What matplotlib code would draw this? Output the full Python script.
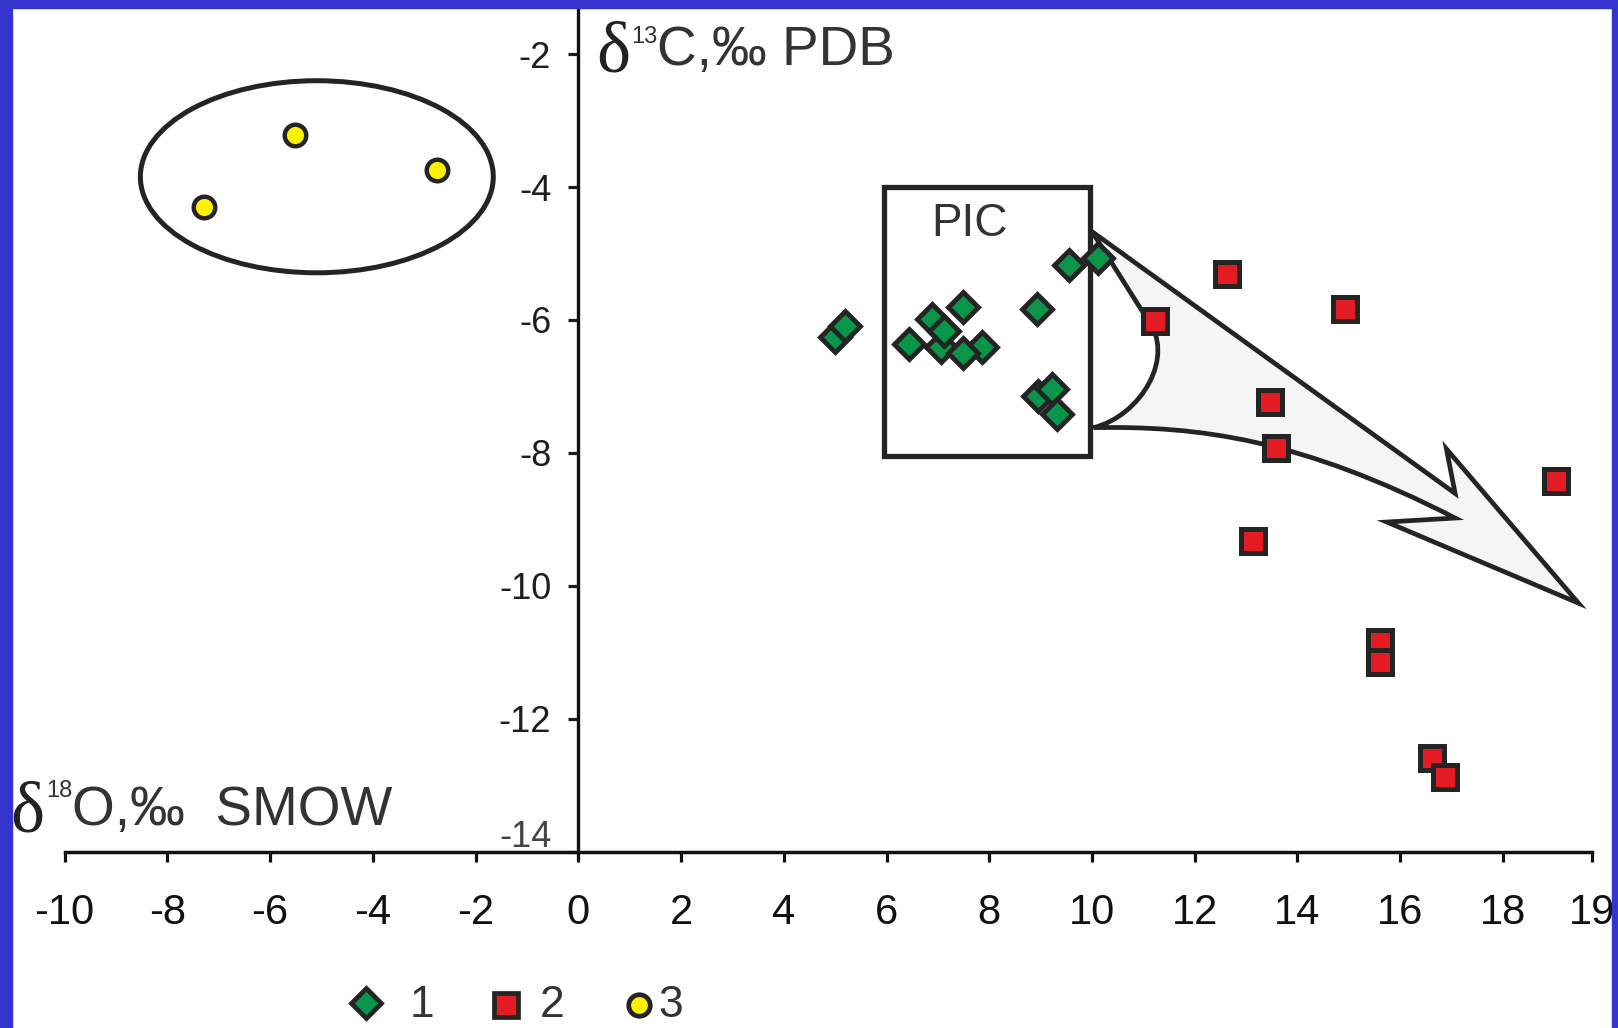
import matplotlib
matplotlib.use('Agg')
import matplotlib.pyplot as plt
from matplotlib.patches import Ellipse, Rectangle, PathPatch
from matplotlib.path import Path
from matplotlib.lines import Line2D

W, H = 1618, 1028

# 1 - diamonds
o18_g1 = [5.00, 5.19, 6.44, 6.88, 7.48, 7.07, 7.11, 7.85, 7.48, 8.92, 9.56, 10.12, 8.95, 9.22, 9.32]
c13_g1 = [-6.26, -6.09, -6.36, -5.98, -5.81, -6.41, -6.17, -6.41, -6.50, -5.83, -5.17, -5.06, -7.14, -7.04, -7.42]
# 2 - squares
o18_g2 = [11.23, 12.62, 14.93, 13.47, 13.58, 13.13, 19.03, 15.60, 15.60, 16.62, 16.88]
c13_g2 = [-6.02, -5.31, -5.84, -7.23, -7.93, -9.32, -8.42, -10.85, -11.15, -12.59, -12.88]
# 3 - circles
o18_g3 = [-7.28, -5.51, -2.76]
c13_g3 = [-4.30, -3.22, -3.74]

x_ticks = [-10, -8, -6, -4, -2, 0, 2, 4, 6, 8, 10, 12, 14, 16, 18, 19.73]
x_tick_labels = ['-10', '-8', '-6', '-4', '-2', '0', '2', '4', '6', '8', '10', '12', '14', '16', '18', '19']
y_ticks = [-2, -4, -6, -8, -10, -12, -14]
y_tick_labels = ['-2', '-4', '-6', '-8', '-10', '-12', '']

legend_labels = ['1', '2', '3']

# PIC field and the trend arrow outline (data units)
pic_box = (5.95, -8.05, 9.97, -4.0)
arrow_verts = [(10.00, -4.67), (17.07, -8.61), (16.90, -7.94), (19.47, -10.26),
               (15.74, -9.04), (17.07, -8.98),
               (14.07, -7.79), (12.07, -7.59), (10.03, -7.62),
               (10.96, -7.44), (11.65, -6.54), (11.07, -5.98),
               (10.00, -4.67)]
arrow_codes = [Path.MOVETO, Path.LINETO, Path.LINETO, Path.LINETO,
               Path.LINETO, Path.LINETO,
               Path.CURVE4, Path.CURVE4, Path.CURVE4,
               Path.CURVE4, Path.CURVE4, Path.CURVE4,
               Path.CLOSEPOLY]

GREEN = '#0A964A'
RED = '#E31B23'
YELLOW = '#FFF200'
EDGE = '#242424'
BLUE = '#3434CC'
SANS = 'Liberation Sans'
SERIF = 'Liberation Serif'

plt.rcParams['font.family'] = [SANS, 'DejaVu Sans']

fig = plt.figure(figsize=(W / 100, H / 100), dpi=100, facecolor='white')
ax = fig.add_axes([64.6 / W, 1 - 851.7 / H, (1591.8 - 64.6) / W, (851.7 - 8) / H])
ax.set_facecolor('none')
ax.set_xlim(-10, 19.73)
ax.set_ylim(-14, -1.306)

for s in ['top', 'right']:
    ax.spines[s].set_visible(False)
ax.spines['left'].set_position(('data', 0))
ax.spines['left'].set_linewidth(2.4)
ax.spines['bottom'].set_linewidth(2.5)
ax.spines['left'].set_color('#111111')
ax.spines['bottom'].set_color('#111111')

ax.set_xticks(x_ticks)
ax.set_xticklabels(x_tick_labels)
ax.set_yticks(y_ticks)
ax.set_yticklabels(y_tick_labels)
ax.tick_params(axis='x', direction='out', length=7.5, width=2.3, pad=22,
               labelsize=30, colors='#111111')
ax.tick_params(axis='y', direction='out', length=7.5, width=2.3, pad=12,
               labelsize=26, colors='#1e1e1e')
ax.annotate('-14', xy=(0, -14), xytext=(-19, 10), textcoords='offset points',
            ha='right', va='center', fontsize=26, color='#444444')

# group 3 outline
ax.add_patch(Ellipse((-5.09, -3.845), 6.87, 2.89, fill=False, lw=3.6, ec=EDGE, zorder=2))
# PIC box
x0, y0, x1, y1 = pic_box
ax.add_patch(Rectangle((x0, y0), x1 - x0, y1 - y0, fill=False, lw=3.8, ec=EDGE,
                       joinstyle='miter', zorder=2))
ax.text(7.61, -4.73, 'PIC', ha='center', va='baseline', fontsize=33, color='#333333')
# trend arrow
ax.add_patch(PathPatch(Path(arrow_verts, arrow_codes), fc='#F5F5F5', ec=EDGE,
                       lw=3.4, joinstyle='miter', zorder=2))

ax.plot(o18_g1, c13_g1, ls='none', marker='D', ms=15.3, mfc=GREEN, mec=EDGE, mew=3.5, zorder=4)
ax.plot(o18_g2, c13_g2, ls='none', marker='s', ms=17, mfc=RED, mec=EDGE, mew=3.6, zorder=4)
ax.plot(o18_g3, c13_g3, ls='none', marker='o', ms=15.5, mfc=YELLOW, mec=EDGE, mew=3.2, zorder=4)


def px(x, y):
    return x / W, 1 - y / H


# axis titles: delta, superscript mass number, the rest
fig.text(*px(596, 72), '\u03b4', family=SERIF, fontsize=52, color='#222222', va='baseline')
fig.text(*px(631, 43), '13', fontsize=17, color='#333333', va='baseline')
fig.text(*px(657, 65), 'C,\u2030 PDB', fontsize=39.5, color='#333333', va='baseline')

fig.text(*px(10, 832), '\u03b4', family=SERIF, fontsize=52, color='#222222', va='baseline')
fig.text(*px(46, 797), '18', fontsize=17, color='#333333', va='baseline')
fig.text(*px(72, 825), 'O,\u2030  SMOW', fontsize=39.5, color='#333333', va='baseline')

# legend row
leg_marks = [('D', 15.3, GREEN, 366, 1003, 410),
             ('s', 17, RED, 505.5, 1005, 540),
             ('o', 15.5, YELLOW, 639, 1005, 658)]
for (m, ms, fc, mx, my, tx), lab in zip(leg_marks, legend_labels):
    fx, fy = px(mx, my)
    fig.add_artist(Line2D([fx], [fy], transform=fig.transFigure, ls='none', marker=m,
                          ms=ms, mfc=fc, mec=EDGE, mew=3.4))
    fig.text(*px(tx, 1017), lab, fontsize=32, color='#333333', va='baseline')

# blue frame
fig.add_artist(Rectangle((0, 0), 12 / W, 1, transform=fig.transFigure, color=BLUE, zorder=10))
fig.add_artist(Rectangle((0, 1 - 8 / H), 1, 8 / H, transform=fig.transFigure, color=BLUE, zorder=10))
fig.add_artist(Rectangle((1 - 6 / W, 0), 6 / W, 1, transform=fig.transFigure, color=BLUE, zorder=10))

fig.savefig('out.png', dpi=100, facecolor='white')
